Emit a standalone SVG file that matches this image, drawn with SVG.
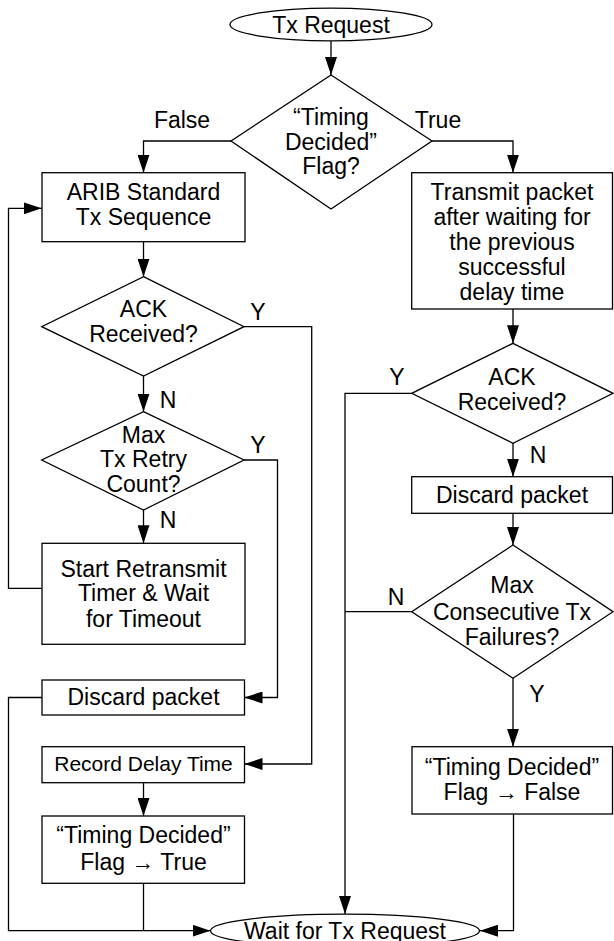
<svg xmlns="http://www.w3.org/2000/svg" width="614" height="941" viewBox="0 0 614 941">
<defs>
<marker id="arr" markerUnits="userSpaceOnUse" markerWidth="18" markerHeight="12" refX="18" refY="6" orient="auto">
<path d="M0,0 L18,6 L0,12 z" fill="#000"/>
</marker>
<style>
.s{fill:#fff;stroke:#000;stroke-width:1.3}
.c{fill:none;stroke:#000;stroke-width:1.3}
.a{marker-end:url(#arr)}
text{font-family:"Liberation Sans",Arial,sans-serif;font-size:23px;fill:#000;text-anchor:middle}
.sm{font-size:21px}
</style>
</defs>
<rect width="614" height="941" fill="#fff"/>
<g id="connectors">
<path class="c a" d="M331,41 V75"/>
<path class="c a" d="M231,141 H143.5 V172.7"/>
<path class="c a" d="M432,141 H513 V172.7"/>
<path class="c a" d="M143.5,241.7 V276.7"/>
<path class="c a" d="M143.5,376 V411.7"/>
<path class="c a" d="M143.5,510 V543.3"/>
<path class="c a" d="M41.7,588.3 H8.5 V208.3 H41.7"/>
<path class="c a" d="M244,326.7 H311.7 V764 H244.5"/>
<path class="c a" d="M244,460 H277.5 V697.5 H244.5"/>
<path class="c a" d="M42,697.5 H8.5 V930.7 H210.5"/>
<path class="c a" d="M143.5,782.7 V816"/>
<path class="c" d="M143.5,883.3 V930.7"/>
<path class="c a" d="M513,309 V343.3"/>
<path class="c a" d="M411.7,393.3 H345 V914"/>
<path class="c a" d="M513,443.3 V476.7"/>
<path class="c a" d="M513,513.3 V545"/>
<path class="c" d="M411.7,611.7 H345"/>
<path class="c a" d="M513,678.3 V746.7"/>
<path class="c a" d="M513.5,814 V930.7 H480"/>
<text x="182" y="128">False</text>
<text x="438" y="128">True</text>
<text x="258" y="320">Y</text>
<text x="168" y="408">N</text>
<text x="258" y="453">Y</text>
<text x="168" y="528">N</text>
<text x="397" y="385">Y</text>
<text x="538" y="463">N</text>
<text x="396" y="605">N</text>
<text x="537" y="702">Y</text>
</g>
<g id="tx-request">
<ellipse class="s" cx="331" cy="24.5" rx="101" ry="16.3"/>
<text x="331" y="33">Tx Request</text>
</g>
<g id="timing-flag">
<polygon class="s" points="331,75 432,141 331,209 231,141"/>
<text x="331" y="125">“Timing</text>
<text x="331" y="150">Decided”</text>
<text x="331" y="174">Flag?</text>
</g>
<g id="arib">
<rect class="s" x="42" y="172.7" width="203" height="69"/>
<text x="143.5" y="200">ARIB Standard</text>
<text x="143.5" y="225">Tx Sequence</text>
</g>
<g id="ack-left">
<polygon class="s" points="143.5,276.7 244,326.7 143.5,376 41.7,326.7"/>
<text x="143.5" y="317">ACK</text>
<text x="143.5" y="342">Received?</text>
</g>
<g id="max-retry">
<polygon class="s" points="143.5,411.7 244,460 143.5,510 41.7,460"/>
<text x="143.5" y="443">Max</text>
<text x="143.5" y="467">Tx Retry</text>
<text x="143.5" y="492">Count?</text>
</g>
<g id="retransmit">
<rect class="s" x="42" y="543.3" width="203" height="101"/>
<text x="143.5" y="577">Start Retransmit</text>
<text x="143.5" y="601">Timer &amp; Wait</text>
<text x="143.5" y="627">for Timeout</text>
</g>
<g id="discard-left">
<rect class="s" x="42" y="680" width="202.5" height="35"/>
<text x="143.5" y="705">Discard packet</text>
</g>
<g id="record-delay">
<rect class="s" x="42" y="746.7" width="202.5" height="36"/>
<text class="sm" x="143.5" y="771">Record Delay Time</text>
</g>
<g id="flag-true">
<rect class="s" x="42" y="816" width="202.5" height="67.3"/>
<text x="143.5" y="843">“Timing Decided”</text>
<text x="143.5" y="870">Flag → True</text>
</g>
<g id="transmit">
<rect class="s" x="411.7" y="172.7" width="200.8" height="136.3"/>
<text x="512" y="200">Transmit packet</text>
<text x="512" y="225">after waiting for</text>
<text x="512" y="250">the previous</text>
<text x="512" y="275">successful</text>
<text x="512" y="300">delay time</text>
</g>
<g id="ack-right">
<polygon class="s" points="513,343.3 613,393.3 513,443.3 411.7,393.3"/>
<text x="512" y="385">ACK</text>
<text x="512" y="410">Received?</text>
</g>
<g id="discard-right">
<rect class="s" x="411.7" y="476.7" width="200.8" height="36.6"/>
<text x="512" y="503">Discard packet</text>
</g>
<g id="max-consecutive">
<polygon class="s" points="513,545 613,611.7 513,678.3 411.7,611.7"/>
<text x="512" y="593">Max</text>
<text x="512" y="620">Consecutive Tx</text>
<text x="512" y="645">Failures?</text>
</g>
<g id="flag-false">
<rect class="s" x="412" y="746.7" width="200.5" height="67.3"/>
<text x="512" y="775">“Timing Decided”</text>
<text x="512" y="800">Flag → False</text>
</g>
<g id="wait-request">
<ellipse class="s" cx="345" cy="930.7" rx="134.5" ry="16.5"/>
<text x="345" y="939">Wait for Tx Request</text>
</g>
</svg>
